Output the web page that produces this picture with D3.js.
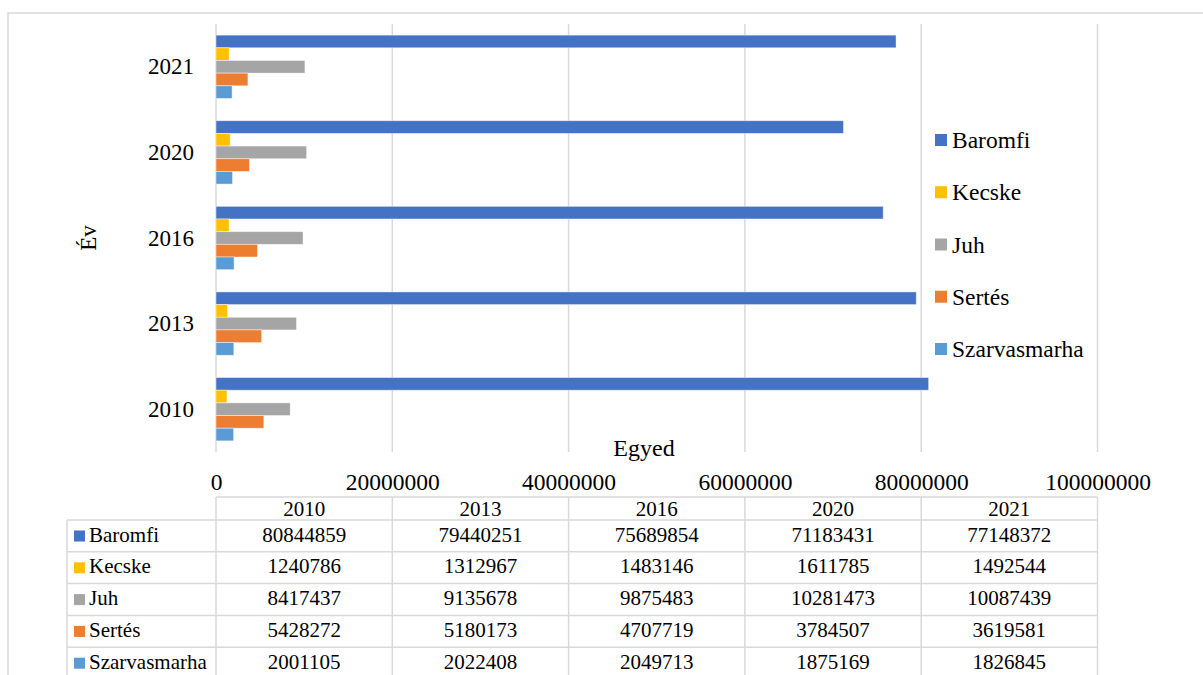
<!DOCTYPE html>
<html>
<head>
<meta charset="utf-8">
<script src="https://cdn.jsdelivr.net/npm/d3@7"></script>
<style>
  html, body { margin: 0; padding: 0; background: #fff; }
  svg { display: block; font-family: "Liberation Serif", "Times New Roman", serif; }
</style>
</head>
<body>
<svg id="chart" width="1203" height="675"></svg>
<script>
const years = ["2010", "2013", "2016", "2020", "2021"];
const seriesNames = ["Baromfi", "Kecske", "Juh", "Sertés", "Szarvasmarha"];
const seriesColors = ["#4472C4", "#FFC000", "#A5A5A5", "#ED7D31", "#5B9BD5"];
const baromfi = [80844859, 79440251, 75689854, 71183431, 77148372];
const kecske = [1240786, 1312967, 1483146, 1611785, 1492544];
const juh = [8417437, 9135678, 9875483, 10281473, 10087439];
const sertes = [5428272, 5180173, 4707719, 3784507, 3619581];
const szarvasmarha = [2001105, 2022408, 2049713, 1875169, 1826845];
const xTicks = [0, 20000000, 40000000, 60000000, 80000000, 100000000];
const xTitle = "Egyed";
const yTitle = "Év";

const seriesValues = [baromfi, kecske, juh, sertes, szarvasmarha];
const series = seriesNames.map((n, i) => ({ name: n, color: seriesColors[i], values: seriesValues[i] }));

const svg = d3.select("#chart");
const grid = "#D9D9D9";

// outer chart border (continues past right and bottom edges)
svg.append("rect").attr("x", 8).attr("y", 13).attr("width", 1230).attr("height", 700)
  .attr("fill", "none").attr("stroke", grid).attr("stroke-width", 1.5);

const x = d3.scaleLinear().domain([0, 100000000]).range([216, 1097.5]);
const plotTop = 24, plotBottom = 452;
const y = d3.scaleBand().domain(years.slice().reverse()).range([plotTop, plotBottom])
  .paddingInner(0.26).paddingOuter(0.13);
const yInner = d3.scaleBand().domain(seriesNames).range([0, y.bandwidth()]);

// gridlines
svg.append("g").selectAll("line").data(xTicks).join("line")
  .attr("x1", d => x(d)).attr("x2", d => x(d))
  .attr("y1", plotTop).attr("y2", plotBottom)
  .attr("stroke", grid).attr("stroke-width", 1.5);

// bars
const groups = svg.append("g").selectAll("g").data(years).join("g")
  .attr("transform", d => `translate(0,${y(d)})`);
groups.selectAll("rect").data((yr, yi) => series.map(s => ({ s, v: s.values[yi] }))).join("rect")
  .attr("x", x(0))
  .attr("y", d => yInner(d.s.name))
  .attr("width", d => x(d.v) - x(0))
  .attr("height", yInner.bandwidth())
  .attr("fill", d => d.s.color)
  .attr("stroke", "#ffffff").attr("stroke-opacity", 0.55).attr("stroke-width", 0.8);

// y category labels
svg.append("g").selectAll("text").data(years).join("text")
  .attr("x", 194).attr("y", d => y(d) + y.bandwidth() / 2)
  .attr("text-anchor", "end").attr("dominant-baseline", "central")
  .attr("font-size", 23).attr("fill", "#000").text(d => d);

// y axis title
svg.append("text").attr("transform", "translate(96,238) rotate(-90)")
  .attr("text-anchor", "middle").attr("font-size", 23).attr("fill", "#000").text(yTitle);

// x axis title
svg.append("text").attr("x", 644).attr("y", 456)
  .attr("text-anchor", "middle").attr("font-size", 24).attr("fill", "#000").text(xTitle);

// x tick labels
const xAxis = d3.axisBottom(x).tickValues(xTicks).tickSize(0).tickPadding(0).tickFormat(d3.format("d"));
const gx = svg.append("g").attr("transform", "translate(0,472)").call(xAxis);
gx.select(".domain").remove();
gx.attr("font-family", null);
gx.selectAll("text").attr("font-family", "Liberation Serif, Times New Roman, serif")
  .attr("font-size", 23.5).attr("fill", "#000").attr("dy", "0.75em");

// legend
const legY = d3.scalePoint().domain(seriesNames).range([140, 349]);
const leg = svg.append("g").selectAll("g").data(series).join("g")
  .attr("transform", d => `translate(935,${legY(d.name)})`);
leg.append("rect").attr("x", 0).attr("y", -6).attr("width", 12).attr("height", 12).attr("fill", d => d.color);
leg.append("text").attr("x", 17).attr("y", 0).attr("dominant-baseline", "central")
  .attr("font-size", 23.5).attr("fill", "#000").text(d => d.name);

// data table
const colEdges = xTicks.map(t => x(t));
const headerTop = 497, rowTop = 520, rowH = 31.8;
const tableLeft = 67, tableRight = x(100000000);
const tbl = svg.append("g");
const rowLines = d3.range(series.length + 1).map(i => rowTop + i * rowH);
// header top line
tbl.append("line").attr("x1", colEdges[0]).attr("x2", tableRight).attr("y1", headerTop).attr("y2", headerTop)
  .attr("stroke", grid).attr("stroke-width", 1.5);
tbl.selectAll("line.row").data(rowLines).join("line").attr("class", "row")
  .attr("x1", tableLeft).attr("x2", tableRight).attr("y1", d => d).attr("y2", d => d)
  .attr("stroke", grid).attr("stroke-width", 1.5);
tbl.selectAll("line.col").data(colEdges).join("line").attr("class", "col")
  .attr("x1", d => d).attr("x2", d => d).attr("y1", headerTop).attr("y2", 700)
  .attr("stroke", grid).attr("stroke-width", 1.5);
tbl.append("line").attr("x1", tableLeft).attr("x2", tableLeft).attr("y1", rowTop).attr("y2", 700)
  .attr("stroke", grid).attr("stroke-width", 1.5);

const colCenter = i => (colEdges[i] + colEdges[i + 1]) / 2;
tbl.selectAll("text.hdr").data(years).join("text").attr("class", "hdr")
  .attr("x", (d, i) => colCenter(i)).attr("y", 516)
  .attr("text-anchor", "middle").attr("font-size", 21).attr("fill", "#000").text(d => d);

const rows = tbl.selectAll("g.trow").data(series).join("g").attr("class", "trow")
  .attr("transform", (d, i) => `translate(0,${rowTop + i * rowH})`);
rows.append("rect").attr("x", 74).attr("y", 10.5).attr("width", 11).attr("height", 11).attr("fill", d => d.color);
rows.append("text").attr("x", 89).attr("y", 21.5).attr("font-size", 21).attr("fill", "#000").text(d => d.name);
rows.selectAll("text.val").data(d => d.values).join("text").attr("class", "val")
  .attr("x", (v, i) => colCenter(i)).attr("y", 21.5)
  .attr("text-anchor", "middle").attr("font-size", 21).attr("fill", "#000").text(v => v);
</script>
</body>
</html>
